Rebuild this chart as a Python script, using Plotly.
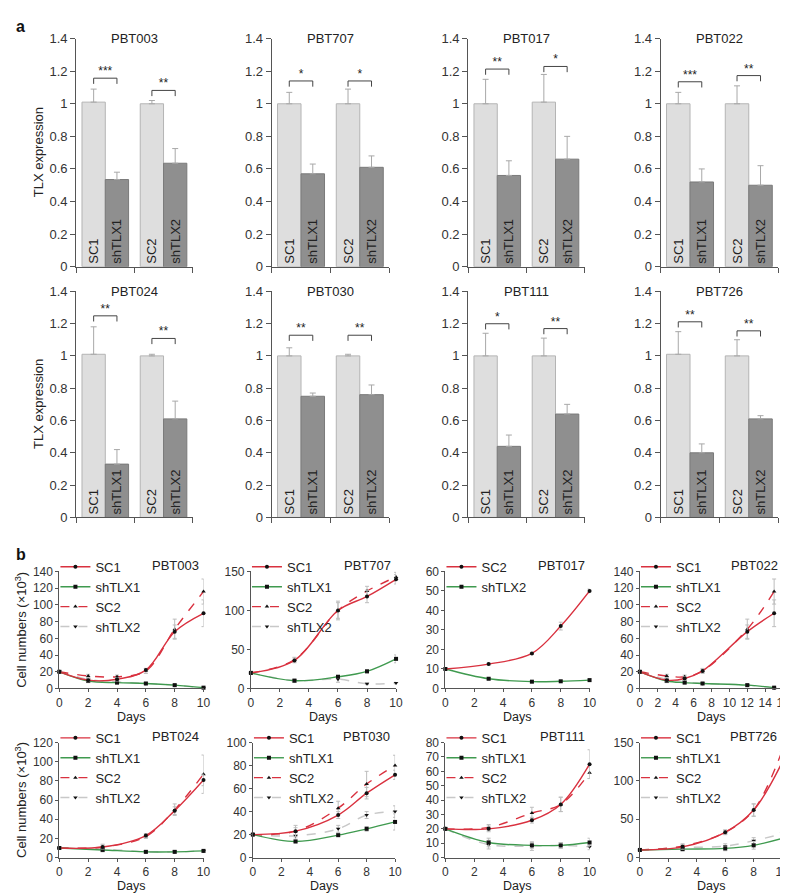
import plotly.graph_objects as go

W, H = 788, 893
FONT = "Liberation Sans, Arial, sans-serif"

# ---------------- panel a : TLX expression ----------------
bar_titles = ["PBT003", "PBT707", "PBT017", "PBT022", "PBT024", "PBT030", "PBT111", "PBT726"]
bar_labels = ["SC1", "shTLX1", "SC2", "shTLX2"]
sc1_val = [1.01, 1.00, 1.00, 1.00, 1.01, 1.00, 1.00, 1.01]
sc1_err = [0.08, 0.07, 0.15, 0.07, 0.17, 0.05, 0.14, 0.14]
sh1_val = [0.535, 0.57, 0.56, 0.52, 0.33, 0.75, 0.44, 0.40]
sh1_err = [0.045, 0.06, 0.09, 0.08, 0.09, 0.02, 0.07, 0.055]
sc2_val = [1.00, 1.00, 1.01, 1.00, 1.00, 1.00, 1.00, 1.00]
sc2_err = [0.02, 0.09, 0.17, 0.11, 0.01, 0.01, 0.11, 0.10]
sh2_val = [0.635, 0.61, 0.66, 0.50, 0.61, 0.76, 0.64, 0.61]
sh2_err = [0.09, 0.07, 0.14, 0.12, 0.11, 0.06, 0.06, 0.02]
sig1_y = [1.157, 1.14, 1.213, 1.135, 1.248, 1.128, 1.199, 1.211]
sig1_txt = ["***", "*", "**", "***", "**", "**", "*", "**"]
sig2_y = [1.082, 1.14, 1.229, 1.173, 1.108, 1.128, 1.169, 1.155]
sig2_txt = ["**", "*", "*", "**", "**", "**", "**", "**"]
bar_pos = [1.5, 3.5, 6.5, 8.5]
bar_yticks = [0, 0.2, 0.4, 0.6, 0.8, 1.0, 1.2, 1.4]

# ---------------- panel b : cell numbers ----------------
line_titles = ["PBT003", "PBT707", "PBT017", "PBT022", "PBT024", "PBT030", "PBT111", "PBT726"]
line_days = [
    [0, 2, 4, 6, 8, 10], [0, 3, 6, 8, 10], [0, 3, 6, 8, 10], [0, 3, 5, 7, 12, 15],
    [0, 3, 6, 8, 10], [0, 3, 6, 8, 10], [0, 3, 6, 8, 10], [0, 3, 6, 8, 10],
]
name_a = ["SC1", "SC1", "SC2", "SC1", "SC1", "SC1", "SC1", "SC1"]
name_b = ["shTLX1", "shTLX1", "shTLX2", "shTLX1", "shTLX1", "shTLX1", "shTLX1", "shTLX1"]
line_sc1 = [
    [20, 10, 11, 22, 68, 90], [20, 36, 100, 118, 140], [10, 12.5, 18, 32, 50], [20, 10, 12, 21, 68, 90],
    [10, 11, 23, 49, 81], [20, 23, 37, 56, 72], [20, 20, 26, 37, 65], [10, 14, 33, 62, 124],
]
line_sc1_err = [
    [0, 2, 2, 2, 8, 16], [0, 3, 10, 8, 6], [0, 0.5, 0.5, 2, 1], [0, 2, 2, 2, 8, 16],
    [0, 2, 2, 4, 6], [0, 3, 3, 5, 4], [0, 2, 2, 5, 10], [0, 3, 3, 8, 8],
]
line_sh1 = [
    [20, 9, 7, 6, 4, 1], [20, 10, 15, 22, 38], [10, 5, 3.5, 3.7, 4.3], [20, 9, 7, 6, 4, 1],
    [10, 8, 6, 6, 7], [20, 14, 19.5, 25, 31], [20, 10.5, 8.5, 8.5, 10.5], [10, 11, 12, 16, 25],
]
line_sh1_err = [
    [0, 2, 1, 1, 1, 1], [0, 2, 2, 2, 5], [0, 0.5, 0.5, 0.3, 0.3], [0, 2, 1, 1, 1, 1],
    [0, 2, 1, 1, 1], [0, 1, 1, 2, 7], [0, 3, 2, 2, 3], [0, 2, 3, 5, 4],
]
line_sc2 = [
    [20, 15, 14, 21, 71, 116], [20, 37, 100, 125, 143], None, [20, 15, 14, 21, 71, 116],
    [10, 11, 22, 50, 87], [20, 23, 43, 64, 80], [20, 21, 31, 37, 59], [10, 15, 33, 62, 139],
]
line_sc2_err = [
    [0, 2, 2, 3, 12, 15], [0, 3, 12, 6, 6], None, [0, 2, 2, 3, 12, 15],
    [0, 3, 2, 6, 20], [0, 5, 6, 11, 9], [0, 2, 4, 5, 4], [0, 3, 3, 8, 5],
]
line_sh2 = [
    [20, 11, 8, 6, 4, 0.5], [20, 10, 12, 6, 7], None, [20, 11, 8, 6, 4, 0.5],
    [10, 9, 6, 6, 7], [20, 19, 25, 37, 40], [20, 9, 8, 8.5, 7.5], [10, 13, 15, 22, 31],
]
line_sh2_err = [
    [0, 2, 1, 1, 1, 1], [0, 2, 4, 1, 1], None, [0, 2, 1, 1, 1, 1],
    [0, 2, 1, 1, 1], [0, 3, 3, 3, 5], [0, 3, 3, 2, 2], [0, 3, 3, 4, 6],
]
line_ymax = [140, 150, 60, 140, 120, 100, 80, 150]
line_ydtick = [20, 50, 10, 20, 20, 20, 10, 50]
line_xmax = [10, 10, 10, 16, 10, 10, 10, 10]

# ---------------- layout geometry (pixels) ----------------
bar_cols = [(66, 184), (264, 383), (463, 581), (658, 777)]
bar_rows = [(24, 256), (281, 511)]
line_cols = [[(49, 195), (243, 390), (440, 586), (637, 782)],
             [(49, 195), (245, 389), (440, 586), (637, 781)]]
line_rows = [(566, 685), (740, 857)]

RED = "#d9313f"
GREEN = "#3f9a4f"
GREY = "#c8c8c8"
AX = "#555555"
FS = 13
FSL = 12


def dx(a, b):
    return [a / W, b / W]


def dy(top, bottom):
    return [1 - bottom / H, 1 - top / H]


def px(y):
    return 1 - y / H


def ax_names(n):
    s = "" if n == 1 else str(n)
    return "x" + s, "y" + s, "xaxis" + s, "yaxis" + s


def axis_common(fs, tl):
    return dict(showline=True, linecolor=AX, linewidth=1, ticks="outside", tickcolor=AX,
                ticklen=tl, showgrid=False, zeroline=False,
                tickfont=dict(size=fs, color="#333", family=FONT))


fig = go.Figure()
layout = {}
annotations = []

# ---- bar panels
for i in range(8):
    n = i + 1
    xr, yr, xk, yk = ax_names(n)
    c0, c1 = bar_cols[i % 4]
    r0, r1 = bar_rows[i // 4]
    layout[xk] = dict(axis_common(FS, 5), domain=dx(c0, c1), range=[0, 10], anchor=yr,
                      tickvals=[0, 5, 10], showticklabels=False)
    layout[yk] = dict(axis_common(FS, 5), domain=dy(r0, r1), range=[0, 1.4], anchor=xr,
                      tickvals=bar_yticks)
    vals = [sc1_val[i], sh1_val[i], sc2_val[i], sh2_val[i]]
    errs = [sc1_err[i], sh1_err[i], sc2_err[i], sh2_err[i]]
    fig.add_trace(go.Bar(
        x=bar_pos, y=vals, width=2, xaxis=xr, yaxis=yr, showlegend=False,
        marker=dict(color=["#dedede", "#8f8f8f", "#dedede", "#8f8f8f"],
                    line=dict(color=["#b4b4b4", "#7a7a7a", "#b4b4b4", "#7a7a7a"], width=1)),
        error_y=dict(type="data", symmetric=False, array=errs, arrayminus=[0, 0, 0, 0],
                     color="#a8a8a8", thickness=1, width=3),
        text=bar_labels, textposition="inside", textangle=-90, insidetextanchor="start",
        textfont=dict(size=FS, color="#222", family=FONT), cliponaxis=False,
    ))
    for (xa, xb), hy, txt in [((bar_pos[0], bar_pos[1]), sig1_y[i], sig1_txt[i]),
                              ((bar_pos[2], bar_pos[3]), sig2_y[i], sig2_txt[i])]:
        fig.add_trace(go.Scatter(
            x=[xa, xa, xb, xb], y=[hy - 0.035, hy, hy, hy - 0.035], mode="lines",
            line=dict(color="#444", width=1), xaxis=xr, yaxis=yr, showlegend=False,
            hoverinfo="skip", cliponaxis=False))
        fig.add_trace(go.Scatter(
            x=[(xa + xb) / 2], y=[hy], mode="text", text=[txt], textposition="top center",
            textfont=dict(size=12, color="#222", family=FONT), xaxis=xr, yaxis=yr,
            showlegend=False, hoverinfo="skip", cliponaxis=False))
    annotations.append(dict(xref=xr, yref=yr, x=5, y=1.4, text=bar_titles[i], showarrow=False,
                            xanchor="center", yanchor="middle",
                            font=dict(size=FS, color="#222", family=FONT)))

for (r0, r1) in bar_rows:
    annotations.append(dict(xref="paper", yref="paper", x=28 / W, y=px((r0 + r1) / 2),
                            text="TLX expression", textangle=-90, showarrow=False,
                            xanchor="center", yanchor="middle",
                            font=dict(size=FS, color="#222", family=FONT)))

# ---- line panels
for i in range(8):
    n = i + 9
    xr, yr, xk, yk = ax_names(n)
    row = i // 4
    c0, c1 = line_cols[row][i % 4]
    r0, r1 = line_rows[row]
    layout[xk] = dict(axis_common(FSL, 3), domain=dx(c0, c1), range=[0, line_xmax[i]],
                      anchor=yr, dtick=2, tick0=0)
    layout[yk] = dict(axis_common(FSL, 3), domain=dy(r0, r1), range=[0, line_ymax[i]],
                      anchor=xr, dtick=line_ydtick[i], tick0=0)
    leg = "legend" if i == 0 else "legend%d" % (i + 1)
    days = line_days[i]
    series = []
    if line_sh2[i] is not None:
        series.append(("shTLX2", line_sh2[i], line_sh2_err[i], GREY, "dash", "triangle-down", 4))
    if line_sc2[i] is not None:
        series.append(("SC2", line_sc2[i], line_sc2_err[i], RED, "dash", "triangle-up", 3))
    series.append((name_b[i], line_sh1[i], line_sh1_err[i], GREEN, "solid", "square", 2))
    series.append((name_a[i], line_sc1[i], line_sc1_err[i], RED, "solid", "circle", 1))
    for nm, ys, es, col, dash, sym, rank in series:
        fig.add_trace(go.Scatter(
            x=days, y=ys, name=nm, mode="lines+markers", xaxis=xr, yaxis=yr, legend=leg,
            legendrank=rank,
            line=dict(color=col, width=1.4, dash=dash, shape="spline", smoothing=1.0),
            marker=dict(color="#111", size=4, symbol=sym),
            error_y=dict(type="data", array=es, color="#bdbdbd", thickness=1, width=2),
            cliponaxis=False,
        ))
    layout[leg] = dict(x=(c0 - 4) / W, y=px(r0 - 20), xanchor="left", yanchor="top",
                       bgcolor="rgba(0,0,0,0)", borderwidth=0, itemwidth=30,
                       font=dict(size=FS, color="#222", family=FONT), tracegroupgap=0,
                       traceorder="normal")
    annotations.append(dict(xref="paper", yref="paper", x=(c1 - 3) / W, y=px(r0 - 6),
                            text=line_titles[i], showarrow=False, xanchor="right",
                            yanchor="middle", font=dict(size=FS, color="#222", family=FONT)))
    annotations.append(dict(xref="paper", yref="paper", x=(c0 + c1) / 2 / W,
                            y=px(r1 + 29), text="Days", showarrow=False,
                            xanchor="center", yanchor="middle",
                            font=dict(size=FSL + 0.5, color="#222", family=FONT)))

for (r0, r1) in line_rows:
    annotations.append(dict(xref="paper", yref="paper", x=10 / W, y=px((r0 + r1) / 2),
                            text="Cell numbers (×10<sup>3</sup>)", textangle=-90,
                            showarrow=False, xanchor="center", yanchor="middle",
                            font=dict(size=FS, color="#222", family=FONT)))

annotations.append(dict(xref="paper", yref="paper", x=3 / W, y=px(12), text="<b>a</b>",
                        showarrow=False, xanchor="left", yanchor="middle",
                        font=dict(size=16, color="#111", family=FONT)))
annotations.append(dict(xref="paper", yref="paper", x=3 / W, y=px(549), text="<b>b</b>",
                        showarrow=False, xanchor="left", yanchor="middle",
                        font=dict(size=16, color="#111", family=FONT)))

fig.update_layout(
    width=W, height=H, autosize=False,
    margin=dict(l=0, r=0, t=0, b=0),
    paper_bgcolor="white", plot_bgcolor="white",
    font=dict(family=FONT, color="#222"),
    annotations=annotations,
    **layout,
)

fig.write_html("out.html")
